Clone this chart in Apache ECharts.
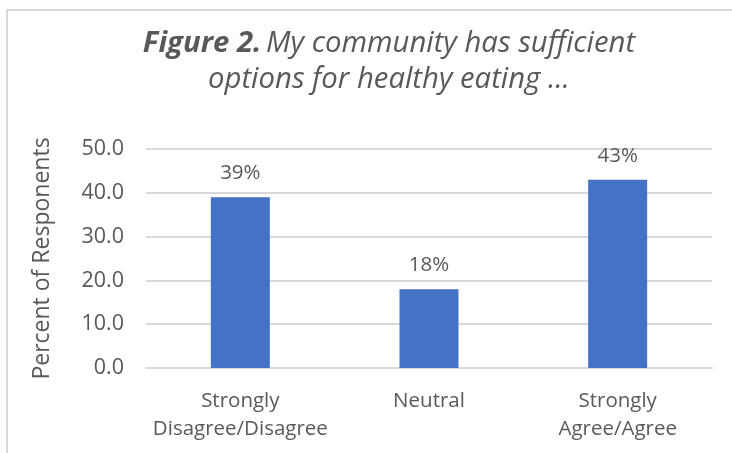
<!DOCTYPE html>
<html>
<head>
<meta charset="utf-8">
<script src="https://cdn.jsdelivr.net/npm/echarts@6/dist/echarts.min.js"></script>
<style>
  html, body { margin: 0; padding: 0; background: #fff; }
  #wrap { position: relative; width: 732px; height: 453px; overflow: hidden; }
  #chart { width: 732px; height: 453px; }
  #frame {
    position: absolute; left: 6px; top: 9px; width: 780px; height: 500px;
    border: 2px solid #d9d9d9; pointer-events: none; box-sizing: border-box;
  }
</style>
</head>
<body>
<div id="wrap">
  <div id="chart"></div>
  <div id="frame"></div>
</div>
<script>
const categories = ['Strongly\nDisagree/Disagree', 'Neutral', 'Strongly\nAgree/Agree']
const percents = [39, 18, 43]
const yTicks = { min: 0, max: 50, interval: 10 }

const FONT = '"Open Sans"'
const GREY = '#595959'

const chart = echarts.init(document.getElementById('chart'))

chart.setOption({
  animation: false,
  textStyle: { fontFamily: FONT },
  title: {
    text: '{b|Figure 2.} {i|My community has sufficient}\n{i|options for healthy eating ...}',
    left: 384,
    top: 21,
    textAlign: 'center',
    textStyle: {
      fontWeight: 'normal',
      rich: {
        b: { fontFamily: FONT, fontSize: 29.3, fontWeight: 'bold', fontStyle: 'italic', color: GREY, lineHeight: 36 },
        i: { fontFamily: FONT, fontSize: 29.3, fontWeight: 'normal', fontStyle: 'italic', color: GREY, lineHeight: 36 },
      },
    },
  },
  grid: { left: 146, right: 20, top: 149, bottom: 85 },
  xAxis: {
    type: 'category',
    data: categories,
    axisLine: { lineStyle: { color: '#d9d9d9', width: 2 } },
    axisTick: { show: false },
    axisLabel: { fontSize: 20.5, color: GREY, lineHeight: 28, margin: 19, interval: 0 },
  },
  yAxis: {
    type: 'value',
    min: yTicks.min,
    max: yTicks.max,
    interval: yTicks.interval,
    name: 'Percent of Responents',
    nameLocation: 'middle',
    nameGap: 92,
    nameTextStyle: { fontSize: 23, color: GREY },
    axisLine: { show: false },
    axisLabel: { fontSize: 21.5, color: GREY, margin: 22, formatter: v => v.toFixed(1) },
    splitLine: { lineStyle: { color: '#d9d9d9', width: 2 } },
  },
  series: [{
    type: 'bar',
    data: percents,
    barWidth: 59,
    itemStyle: { color: '#4472C4' },
    label: {
      show: true,
      position: 'top',
      distance: 13.5,
      fontSize: 20.5,
      color: GREY,
      formatter: p => p.value + '%',
    },
  }],
})
</script>
</body>
</html>
